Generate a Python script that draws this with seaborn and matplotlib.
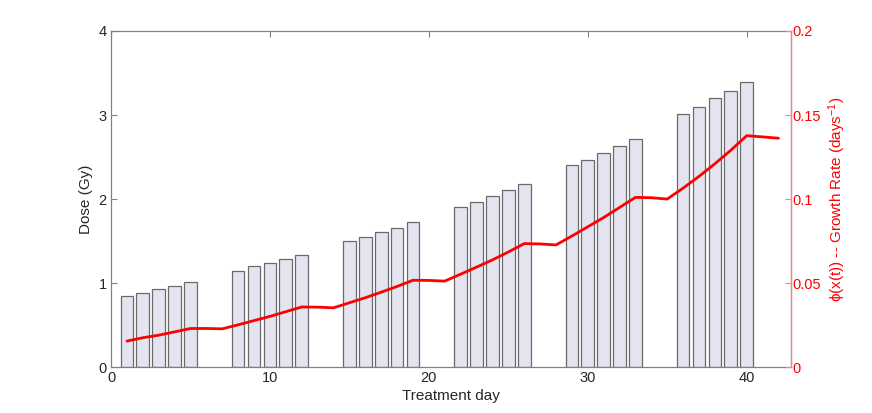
import matplotlib
matplotlib.use("Agg")
import matplotlib.pyplot as plt
import numpy as np
import pandas as pd
import seaborn as sns

# treatment days and dose per fraction (Gy)
days = [1, 2, 3, 4, 5, 8, 9, 10, 11, 12, 15, 16, 17, 18, 19,
        22, 23, 24, 25, 26, 29, 30, 31, 32, 33, 36, 37, 38, 39, 40]
dose = [0.85, 0.88, 0.93, 0.97, 1.01,
        1.15, 1.20, 1.24, 1.29, 1.34,
        1.50, 1.55, 1.61, 1.66, 1.73,
        1.91, 1.97, 2.04, 2.11, 2.18,
        2.40, 2.47, 2.55, 2.63, 2.72,
        3.01, 3.09, 3.20, 3.29, 3.39]

# growth rate phi(x(t)) for every day
rate_days = list(range(1, 43))
rate = [0.0155, 0.0175, 0.0190, 0.0210, 0.0230, 0.0230, 0.0228,
        0.0252, 0.0277, 0.0302, 0.0330, 0.0358, 0.0357, 0.0353,
        0.0383, 0.0413, 0.0446, 0.0480, 0.0517, 0.0516, 0.0512,
        0.0553, 0.0595, 0.0638, 0.0685, 0.0735, 0.0733, 0.0727,
        0.0780, 0.0835, 0.0890, 0.0950, 0.1010, 0.1008, 0.1000,
        0.1065, 0.1135, 0.1210, 0.1290, 0.1377, 0.1370, 0.1362]

sns.set_style("white")
plt.rcParams['font.family'] = ['Liberation Sans', 'DejaVu Sans']
plt.rcParams['mathtext.fontset'] = 'custom'
plt.rcParams['mathtext.rm'] = 'Liberation Sans'
plt.rcParams['mathtext.it'] = 'Liberation Sans'

grey = "#808080"
fig = plt.figure(figsize=(8.72, 4.13), dpi=100)
ax = fig.add_axes([0.1273, 0.111, 0.78, 0.814])

df = pd.DataFrame({"day": days, "dose": dose})
sns.barplot(data=df, x="day", y="dose", native_scale=True, width=0.8,
            color="#e4e4f1", saturation=1, edgecolor="#6a6a6a",
            linewidth=0.9, ax=ax)
ax.set_xlim(0, 42.8)
ax.set_ylim(0, 4)
ax.set_xticks([0, 10, 20, 30, 40])
ax.set_yticks([0, 1, 2, 3, 4])
ax.set_xlabel("Treatment day", fontsize=11, labelpad=3)
ax.set_ylabel("Dose (Gy)", fontsize=11, labelpad=4)
ax.tick_params(direction="in", length=4, color=grey, labelsize=10.5, pad=3)
ax.tick_params(axis="x", top=True)
for s in ax.spines.values():
    s.set_color(grey)
    s.set_linewidth(0.9)

ax2 = ax.twinx()
rdf = pd.DataFrame({"day": rate_days, "rate": rate})
sns.lineplot(data=rdf, x="day", y="rate", color="red", linewidth=2, ax=ax2)
ax2.set_ylim(0, 0.2)
ax2.set_yticks([0, 0.05, 0.1, 0.15, 0.2])
ax2.set_yticklabels(["0", "0.05", "0.1", "0.15", "0.2"])
ax2.set_xlim(0, 42.8)
ax2.set_ylabel("\u03d5(x(t)) -- Growth Rate (days$^{-1}$)", color="red",
               fontsize=11, labelpad=4)
ax2.tick_params(axis="y", direction="in", length=4, color="#ff8080",
                labelcolor="red", labelsize=10.5, pad=1)
for s in ax2.spines.values():
    s.set_visible(False)
ax2.spines["right"].set_visible(True)
ax2.spines["right"].set_color("#ff8080")
ax2.spines["right"].set_linewidth(0.9)

fig.savefig("out.png", dpi=100)
